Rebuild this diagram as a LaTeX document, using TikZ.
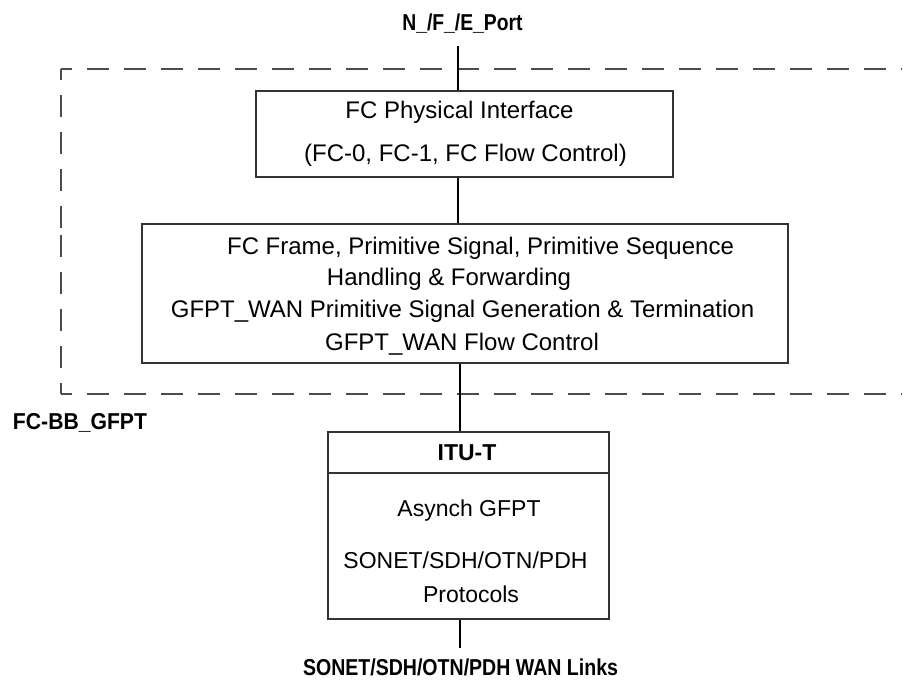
\documentclass[tikz,border=0pt]{standalone}
\usepackage{fontspec}
\setmainfont{Liberation Sans}
\usepackage{graphicx}
\begin{document}
\begin{tikzpicture}[x=1pt,y=-1pt,
  box/.style={draw=black!80,line width=1.3pt,inner sep=0pt,rectangle},
  conn/.style={draw=black,line width=2pt},
  frame/.style={draw=black!70,line width=1.8pt,dash pattern=on 22pt off 15pt,dash phase=11pt},
  txt/.style={inner sep=0pt,anchor=base,font=\fontsize{24}{28}\selectfont},
  txts/.style={inner sep=0pt,anchor=base,font=\fontsize{23}{27}\selectfont},
  bold/.style={inner sep=0pt,anchor=base,font=\fontsize{23}{27}\selectfont\bfseries}]
\useasboundingbox (0,0) rectangle (917,681);
% dashed frame
\coordinate (tl) at (61,69);
\coordinate (tr) at (902,69);
\coordinate (bl) at (61,394);
\coordinate (br) at (902,394);
\coordinate (lm) at (61,231);
\draw[frame] (tl) -- (tr);
\draw[frame] (tl) -- (lm);
\draw[frame] (bl) -- (lm);
\draw[frame] (bl) -- (br);
% boxes
\node[box,minimum width=417pt,minimum height=86pt] (b1) at (464.5,134) {};
\node[box,minimum width=646pt,minimum height=139pt] (b2) at (465,293.5) {};
\node[box,minimum width=281pt,minimum height=41pt] (b3h) at (468.5,452.5) {};
\node[box,minimum width=281pt,minimum height=146pt] (b3) at (468.5,546) {};
% texts
\node[bold] (port) at (462.5,30) {\scalebox{0.84}[1]{N\_/F\_/E\_Port}};
\node[txt] (t11) at (459.5,118) {FC Physical Interface};
\node[txt] (t12) at (465.5,161) {(FC-0, FC-1, FC Flow Control)};
\node[txt] (t21) at (480.5,254) {FC Frame, Primitive Signal, Primitive Sequence};
\node[txt] (t22) at (449,285) {Handling \& Forwarding};
\node[txt] (t23) at (462.5,317) {GFPT\_WAN Primitive Signal Generation \& Termination};
\node[txt] (t24) at (462,350) {GFPT\_WAN Flow Control};
\node[bold] (fcbb) at (80,429) {\scalebox{0.92}[1]{FC-BB\_GFPT}};
\node[bold] (itu) at (467,460) {ITU-T};
\node[txts] (t31) at (469,516) {Asynch GFPT};
\node[txts] (t32) at (465.5,568) {SONET/SDH/OTN/PDH};
\node[txts] (t33) at (471,602) {Protocols};
\node[bold] (wan) at (460.5,675) {\scalebox{0.85}[1]{SONET/SDH/OTN/PDH WAN Links}};
% connectors
\coordinate (c0) at (458,46);
\coordinate (c3) at (460,648);
\draw[conn] (c0) -- (c0 |- b1.north);
\draw[conn] (c0 |- b1.south) -- (c0 |- b2.north);
\draw[conn] (c3 |- b2.south) -- (c3 |- b3h.north);
\draw[conn] (c3 |- b3.south) -- (c3);
\end{tikzpicture}
\end{document}
